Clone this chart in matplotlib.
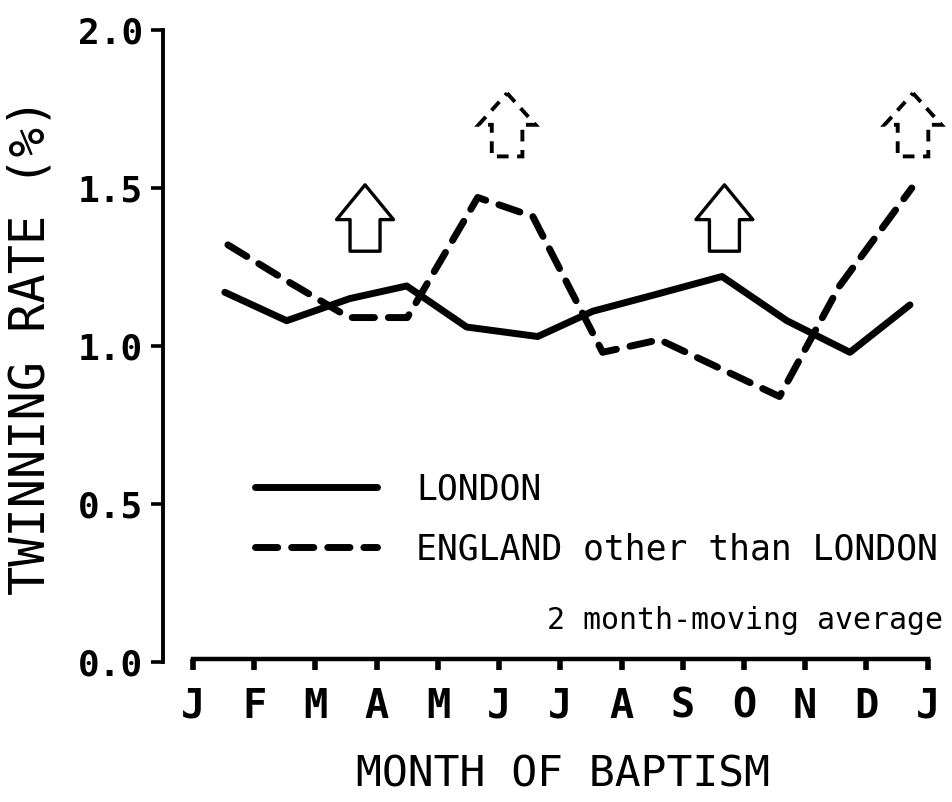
import matplotlib
matplotlib.use("Agg")
import matplotlib.pyplot as plt
from matplotlib.patches import FancyArrow

# ---- data ----
month_labels = ["J", "F", "M", "A", "M", "J", "J", "A", "S", "O", "N", "D", "J"]
y_ticks = [0.0, 0.5, 1.0, 1.5, 2.0]

london_x = [0.52, 1.53, 2.56, 3.49, 4.47, 5.63, 6.53, 7.5, 8.64, 9.70, 10.73, 11.71]
london_y = [1.17, 1.08, 1.15, 1.19, 1.06, 1.03, 1.11, 1.16, 1.22, 1.08, 0.98, 1.13]

england_x = [0.57, 1.5, 2.55, 3.5, 4.65, 5.55, 6.69, 7.62, 8.6, 9.58, 10.56, 11.74]
england_y = [1.32, 1.21, 1.09, 1.09, 1.47, 1.41, 0.98, 1.02, 0.93, 0.84, 1.19, 1.50]

solid_arrow_x = [2.81, 8.68]
solid_arrow_base, solid_arrow_tip = 1.30, 1.51
dashed_arrow_x = [5.13, 11.76]
dashed_arrow_base, dashed_arrow_tip = 1.60, 1.80

FONT = "DejaVu Sans Mono"

fig = plt.figure(figsize=(9.53, 8.02), dpi=100)
ax = fig.add_axes([163 / 953, 140 / 802, 780 / 953, 632 / 802])

ax.plot(london_x, london_y, color="black", lw=5, solid_joinstyle="round",
        solid_capstyle="round", label="LONDON")
ax.plot(england_x, england_y, color="black", lw=5, dashes=(3.2, 2.0),
        dash_capstyle="round", label="ENGLAND other than LONDON")

# up arrows
for xa in solid_arrow_x:
    ax.add_patch(FancyArrow(xa, solid_arrow_base, 0, solid_arrow_tip - solid_arrow_base,
                            width=0.49, head_width=0.93, head_length=0.11,
                            length_includes_head=True, fill=False, ec="black", lw=2.4,
                            joinstyle="round", clip_on=False))
for xa in dashed_arrow_x:
    ax.add_patch(FancyArrow(xa, dashed_arrow_base, 0, dashed_arrow_tip - dashed_arrow_base,
                            width=0.50, head_width=0.93, head_length=0.10,
                            length_includes_head=True, fill=False, ec="black", lw=2.8,
                            linestyle=(0, (3, 2.2)), clip_on=False))

ax.set_xlim(-0.49, 12.25)
ax.set_ylim(0, 2.0)

for s in ["top", "right"]:
    ax.spines[s].set_visible(False)
ax.spines["left"].set_linewidth(2.8)
ax.spines["bottom"].set_linewidth(3.2)
ax.spines["bottom"].set_bounds(0, 12)
ax.spines["bottom"].set_position(("data", 0.01))

ax.set_xticks(range(len(month_labels)))
ax.set_xticklabels(month_labels, fontfamily=FONT, fontweight="bold", fontsize=29)
ax.set_yticks(y_ticks)
ax.set_yticklabels([f"{v:.1f}" for v in y_ticks], fontfamily=FONT,
                   fontweight="bold", fontsize=26)
ax.tick_params(axis="x", direction="out", length=8, width=4, pad=12)
ax.tick_params(axis="y", direction="out", length=8.5, width=2.6, pad=6)

ax.set_ylabel("TWINNING RATE (%)", fontfamily=FONT, fontsize=35, va="center")
ax.yaxis.set_label_coords(-0.17, 0.5)
ax.set_xlabel("MONTH OF BAPTISM", fontfamily=FONT, fontsize=31, va="center")
ax.xaxis.set_label_coords(0.513, -0.178)

leg = ax.legend(loc="upper left", bbox_to_anchor=(0.118, 0.300), frameon=False,
                borderpad=0, borderaxespad=0, handlelength=3.5, handletextpad=1.15,
                labelspacing=0.75, prop={"family": FONT, "size": 25})

ax.text(1.0, 0.066, "2 month-moving average", transform=ax.transAxes,
        ha="right", va="center", fontfamily=FONT, fontsize=21.5)

fig.savefig("out.png", dpi=100)
